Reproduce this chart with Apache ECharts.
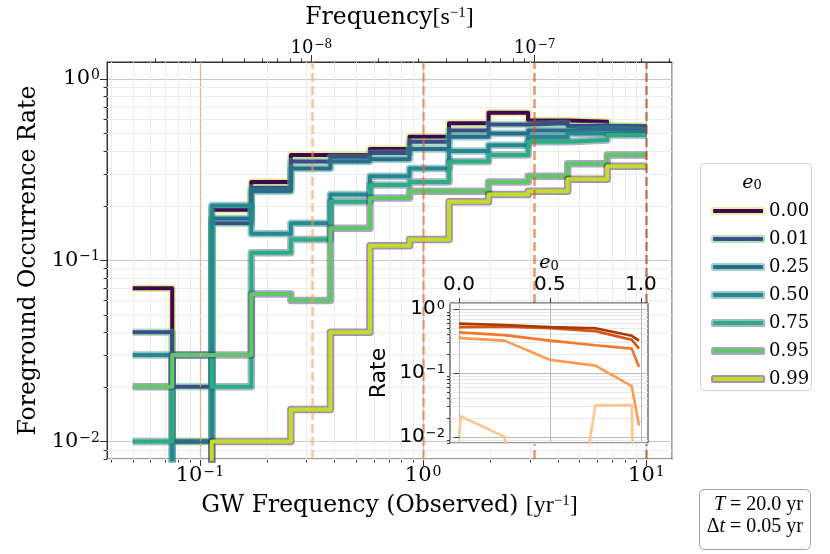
<!DOCTYPE html>
<html><head><meta charset="utf-8">
<script src="https://cdn.jsdelivr.net/npm/echarts@6/dist/echarts.min.js"></script>
<style>html,body{margin:0;padding:0;background:#fff}#c{width:830px;height:554px}</style>
</head><body><div id="c"></div>
<script>
// ---------------- data ----------------
const freqEdges = [0.05, 0.0752, 0.1131, 0.170, 0.2556, 0.3843, 0.5779, 0.869, 1.3066, 1.9647, 2.954, 4.442, 6.679, 10.04];
const e0Labels = ['0.00', '0.01', '0.25', '0.50', '0.75', '0.95', '0.99'];
const rateE000 = [0.07, 0.01, 0.19, 0.27, 0.38, 0.38, 0.41, 0.48, 0.57, 0.65, 0.59, 0.58, 0.55];
const rateE001 = [0.04, 0.02, 0.16, 0.25, 0.35, 0.37, 0.39, 0.45, 0.52, 0.56, 0.57, 0.55, 0.54];
const rateE025 = [0, 0.01, 0.17, 0.24, 0.32, 0.35, 0.36, 0.41, 0.48, 0.50, 0.52, 0.53, 0.52];
const rateE050 = [0.03, 0, 0.20, 0.14, 0.16, 0.23, 0.29, 0.32, 0.40, 0.43, 0.48, 0.50, 0.50];
const rateE075 = [0.01, 0.03, 0.02, 0.11, 0.13, 0.21, 0.26, 0.27, 0.35, 0.38, 0.45, 0.46, 0.49];
const rateE095 = [0.02, 0.03, 0.03, 0.065, 0.06, 0.15, 0.22, 0.24, 0.24, 0.27, 0.29, 0.34, 0.38];
const rateE099 = [0, 0, 0.01, 0.01, 0.015, 0.04, 0.12, 0.13, 0.21, 0.23, 0.24, 0.28, 0.33];

const markerFreqs = [0.1, 0.316, 1.0, 3.16, 10.0];
const insetE0 = [0, 0.01, 0.25, 0.5, 0.75, 0.95, 0.99];
const insetRateF01 = [0.01, 0.021, 0.01, 0, 0.031, 0.031, 0];
const insetRateF03 = [0.38, 0.35, 0.32, 0.16, 0.13, 0.062, 0.015];
const insetRateF1 = [0.43, 0.42, 0.39, 0.32, 0.27, 0.24, 0.124];
const insetRateF3 = [0.52, 0.52, 0.53, 0.50, 0.45, 0.33, 0.24];
const insetRateF10 = [0.59, 0.59, 0.56, 0.52, 0.50, 0.38, 0.32];
const insetXTicks = [0, 0.5, 1.0];

const YR_TO_HZ = 3.1688e-8;
const X_MIN = 0.03837, X_MAX = 13.03, Y_MIN = 0.008, Y_MAX = 1.24;

// ---------------- styles ----------------
const lineColors = ['#440154', '#3e4a89', '#31688e', '#23898e', '#2aae80', '#5ec962', '#bddf26'];
const outlineColors = ['rgba(189,223,38,0.45)', 'rgba(74,193,109,0.45)', 'rgba(31,161,135,0.45)',
  'rgba(39,127,142,0.45)', 'rgba(54,92,141,0.45)', 'rgba(70,50,126,0.45)', 'rgba(68,1,84,0.45)'];
const outlineSolid = ['#e1f19d', '#ade3bd', '#9ad5c9', '#9ec5cc', '#a5b6cc', '#aca3c5', '#ab8db2'];
const insetColors = ['#fdc590', '#fd9a51', '#f3772c', '#d9530f', '#a63a06'];
const dashColors = ['rgba(240,170,130,0.75)', 'rgba(253,154,81,0.6)', 'rgba(236,110,50,0.6)', 'rgba(217,83,15,0.6)', 'rgba(166,58,6,0.6)'];

const SERIF = 'DejaVu Serif';
const SANS = 'DejaVu Sans';
const FLOOR = 1e-6;

const allRates = [rateE000, rateE001, rateE025, rateE050, rateE075, rateE095, rateE099];
const insetRates = [insetRateF01, insetRateF03, insetRateF1, insetRateF3, insetRateF10];

function stepPoints(vals) {
  const pts = vals.map((v, i) => [freqEdges[i], v > 0 ? v : FLOOR]);
  const last = vals[vals.length - 1];
  pts.push([freqEdges[vals.length], last > 0 ? last : FLOOR]);
  return pts;
}
function minorLogValues(lo, hi) {
  const out = [];
  for (let k = Math.floor(Math.log10(lo)); k <= Math.ceil(Math.log10(hi)); k++) {
    for (let m = 2; m <= 9; m++) { const v = m * Math.pow(10, k); if (v >= lo && v <= hi) out.push(v); }
  }
  return out;
}
function powLabel(v) {
  const k = Math.round(Math.log10(v));
  return '{b|10}{s|' + (k < 0 ? '\u2212' + (-k) : k) + '}';
}
function powRich(font, size, supSize) {
  return { b: { fontFamily: font, fontSize: size, color: '#000' },
           s: { fontFamily: font, fontSize: supSize, color: '#000', verticalAlign: 'top', padding: [0, 0, 0, 1] } };
}
function guideLayer(vals, dir, xi, yi, ref, opt) {
  return {
    type: 'custom', xAxisIndex: xi, yAxisIndex: yi, silent: true, animation: false, clip: false, z: opt.z,
    data: vals.map(v => dir === 'x' ? [v, ref] : [ref, v]),
    encode: { x: 0, y: 1 },
    renderItem: function (params, api) {
      const cs = params.coordSys;
      const p = api.coord([api.value(0), api.value(1)]);
      const kids = [];
      if (dir === 'x') {
        const x = Math.round(p[0]) + 0.5;
        if (opt.grid) kids.push({ type: 'line', shape: { x1: x, y1: cs.y, x2: x, y2: cs.y + cs.height }, style: { stroke: opt.grid, lineWidth: opt.gridWidth || 1 } });
        if (opt.tick) {
          const y0 = opt.side === 'top' ? cs.y : cs.y + cs.height;
          const d = opt.side === 'top' ? -opt.tick : opt.tick;
          kids.push({ type: 'line', shape: { x1: x, y1: y0, x2: x, y2: y0 + d }, style: { stroke: '#333', lineWidth: 1 } });
        }
      } else {
        const y = Math.round(p[1]) + 0.5;
        if (opt.grid) kids.push({ type: 'line', shape: { x1: cs.x, y1: y, x2: cs.x + cs.width, y2: y }, style: { stroke: opt.grid, lineWidth: opt.gridWidth || 1 } });
        if (opt.tick) kids.push({ type: 'line', shape: { x1: cs.x, y1: y, x2: cs.x - opt.tick, y2: y }, style: { stroke: '#333', lineWidth: 1 } });
      }
      return { type: 'group', children: kids };
    }
  };
}

// ---------------- series ----------------
const series = [];
series.push(guideLayer(minorLogValues(X_MIN, X_MAX), 'x', 0, 0, 0.1, { grid: '#ececec', tick: 3.5, side: 'bottom', z: 1 }));
series.push(guideLayer(minorLogValues(Y_MIN, Y_MAX), 'y', 0, 0, 1, { grid: '#ececec', tick: 3.5, z: 1 }));
series.push(guideLayer(minorLogValues(X_MIN * YR_TO_HZ, X_MAX * YR_TO_HZ), 'x', 1, 0, 0.1, { tick: 3.5, side: 'top', z: 1 }));

allRates.forEach((vals, i) => {
  series.push({
    type: 'line', name: e0Labels[i] + ' outline', xAxisIndex: 0, yAxisIndex: 0, data: stepPoints(vals), step: 'end',
    symbol: 'none', silent: true, z: 2, lineStyle: { width: 7.5, color: outlineColors[i], join: 'round' }
  });
  series.push({
    type: 'line', name: e0Labels[i], xAxisIndex: 0, yAxisIndex: 0, data: stepPoints(vals), step: 'end',
    symbol: 'none', z: 2, itemStyle: { color: lineColors[i] }, lineStyle: { width: 4, color: lineColors[i], join: 'round' }
  });
});

series.push({
  type: 'line', name: 'markers', xAxisIndex: 0, yAxisIndex: 0, data: [], symbol: 'none', silent: true, z: 6,
  markLine: {
    symbol: 'none', silent: true, animation: false, label: { show: false },
    data: markerFreqs.map((f, i) => ({ xAxis: f, lineStyle: { color: dashColors[i], width: i === 0 ? 1.2 : 2.5, type: i === 0 ? [4, 2] : [9, 4] } }))
  }
});

// inset
series.push(guideLayer(minorLogValues(Y_MIN, Y_MAX), 'y', 2, 1, 0.5, { grid: '#e8e8e8', tick: 3, z: 11 }));
series.push(guideLayer(insetXTicks, 'x', 2, 1, 0.1, { grid: '#b8b8b8', tick: 5, side: 'top', z: 11 }));
insetRates.forEach((vals, i) => {
  series.push({
    type: 'line', name: 'f=' + markerFreqs[i], xAxisIndex: 2, yAxisIndex: 1,
    data: vals.map((v, j) => [insetE0[j], v > 0 ? v : FLOOR]), symbol: 'none', silent: true, z: 12,
    lineStyle: { width: 2.6, color: insetColors[i] }
  });
});

const mathRich = { m: { fontFamily: 'Liberation Serif', fontSize: 24, color: '#000' }, s: { fontFamily: 'Liberation Serif', fontSize: 15, color: '#000', verticalAlign: 'top' } };
const option = {
  animation: false,
  grid: [
    { left: 107, top: 62, width: 565, height: 397, show: true, backgroundColor: 'transparent', borderColor: '#333', borderWidth: 1, z: 0 },
    { left: 450, top: 303, width: 198, height: 140, show: true, backgroundColor: '#fff', borderColor: '#222', borderWidth: 1, z: 10 }
  ],
  xAxis: [
    { type: 'log', gridIndex: 0, min: X_MIN, max: X_MAX, position: 'bottom',
      axisLine: { show: true, lineStyle: { color: '#333' } },
      axisTick: { show: true, inside: false, length: 7, lineStyle: { color: '#333' } },
      axisLabel: { formatter: powLabel, margin: 6, showMinLabel: false, showMaxLabel: false, rich: powRich(SERIF, 21, 14) },
      splitLine: { show: true, lineStyle: { color: '#c8c8c8', width: 1.2 } },
      name: 'GW Frequency (Observed) {m|[yr}{s|\u22121}{m|]}', nameLocation: 'middle', nameGap: 35,
      nameTextStyle: { fontFamily: SERIF, fontSize: 23.5, color: '#000', rich: mathRich } },
    { type: 'log', gridIndex: 0, min: X_MIN * YR_TO_HZ, max: X_MAX * YR_TO_HZ, position: 'top',
      axisLine: { show: true, lineStyle: { color: '#333' } },
      axisTick: { show: true, inside: false, length: 7, lineStyle: { color: '#333' } },
      axisLabel: { formatter: powLabel, margin: 5, showMinLabel: false, showMaxLabel: false, rich: powRich(SERIF, 18, 12) },
      splitLine: { show: false },
      name: 'Frequency{m|[s}{s|\u22121}{m|]}', nameLocation: 'middle', nameGap: 32,
      nameTextStyle: { fontFamily: SERIF, fontSize: 23.5, color: '#000', rich: mathRich } },
    { type: 'value', gridIndex: 1, position: 'top', min: -0.0495, max: 1.0395, z: 11,
      axisLine: { show: false }, axisTick: { show: false }, splitLine: { show: false },
      axisLabel: { customValues: insetXTicks, formatter: v => v.toFixed(1), fontFamily: SANS, fontSize: 20, color: '#000', margin: 8 },
      name: '{i|e}{u|0}', nameLocation: 'middle', nameGap: 30,
      nameTextStyle: { rich: { i: { fontFamily: SERIF, fontStyle: 'italic', fontSize: 19, color: '#000' }, u: { fontFamily: SERIF, fontSize: 13, color: '#000', verticalAlign: 'bottom' } } } }
  ],
  yAxis: [
    { type: 'log', gridIndex: 0, min: Y_MIN, max: Y_MAX,
      axisLine: { show: true, lineStyle: { color: '#333' } },
      axisTick: { show: true, inside: false, length: 7, lineStyle: { color: '#333' } },
      axisLabel: { formatter: powLabel, margin: 7, showMinLabel: false, showMaxLabel: false, rich: powRich(SERIF, 21, 14) },
      splitLine: { show: true, lineStyle: { color: '#c8c8c8', width: 1.2 } },
      name: 'Foreground Occurrence Rate', nameLocation: 'middle', nameGap: 61,
      nameTextStyle: { fontFamily: SERIF, fontSize: 23.5, color: '#000' } },
    { type: 'log', gridIndex: 1, min: Y_MIN, max: Y_MAX, z: 11,
      axisLine: { show: false },
      axisTick: { show: true, inside: false, length: 5, lineStyle: { color: '#333' } },
      axisLabel: { formatter: powLabel, margin: 5, showMinLabel: false, showMaxLabel: false, rich: powRich(SANS, 20, 13) },
      splitLine: { show: true, lineStyle: { color: '#b8b8b8', width: 1 } },
      name: 'Rate', nameLocation: 'middle', nameGap: 60,
      nameTextStyle: { fontFamily: SANS, fontSize: 22, color: '#000' } }
  ],
  legend: {
    left: 706, top: 196, orient: 'vertical', z: 5, icon: 'roundRect', itemWidth: 52, itemHeight: 6, itemGap: 8,
    textStyle: { fontFamily: SERIF, fontSize: 18, color: '#000', lineHeight: 20 },
    data: e0Labels.map((n, i) => ({ name: n, itemStyle: { color: lineColors[i], borderColor: outlineSolid[i], borderWidth: 2.2 } }))
  },
  graphic: [
    { type: 'rect', z: 1, shape: { x: 700.5, y: 163.5, width: 111, height: 227, r: 4 }, style: { fill: '#fff', stroke: '#d0d0d0', lineWidth: 1 } },
    { type: 'text', z: 6, style: { x: 752, y: 183, text: '{i|e}{u|0}', align: 'center', verticalAlign: 'middle',
      rich: { i: { fontFamily: SERIF, fontStyle: 'italic', fontSize: 19, fill: '#000' }, u: { fontFamily: SERIF, fontSize: 13, fill: '#000', verticalAlign: 'bottom' } } } },
    { type: 'rect', z: 1, shape: { x: 699.5, y: 489.5, width: 111, height: 60, r: 5 }, style: { fill: '#fff', stroke: '#a0a0a0', lineWidth: 1 } },
    { type: 'text', z: 6, style: { x: 803, y: 505, text: '{i|T} = 20.0 yr', align: 'right', verticalAlign: 'middle',
      font: '20px "Liberation Serif"', fill: '#000', rich: { i: { fontFamily: 'Liberation Serif', fontStyle: 'italic', fontSize: 20, fill: '#000' } } } },
    { type: 'text', z: 6, style: { x: 803, y: 527, text: '\u0394{i|t} = 0.05 yr', align: 'right', verticalAlign: 'middle',
      font: '20px "Liberation Serif"', fill: '#000', rich: { i: { fontFamily: 'Liberation Serif', fontStyle: 'italic', fontSize: 20, fill: '#000' } } } }
  ],
  series: series
};
const chart = echarts.init(document.getElementById('c'), null, { renderer: 'canvas' });
chart.setOption(option);
</script></body></html>
